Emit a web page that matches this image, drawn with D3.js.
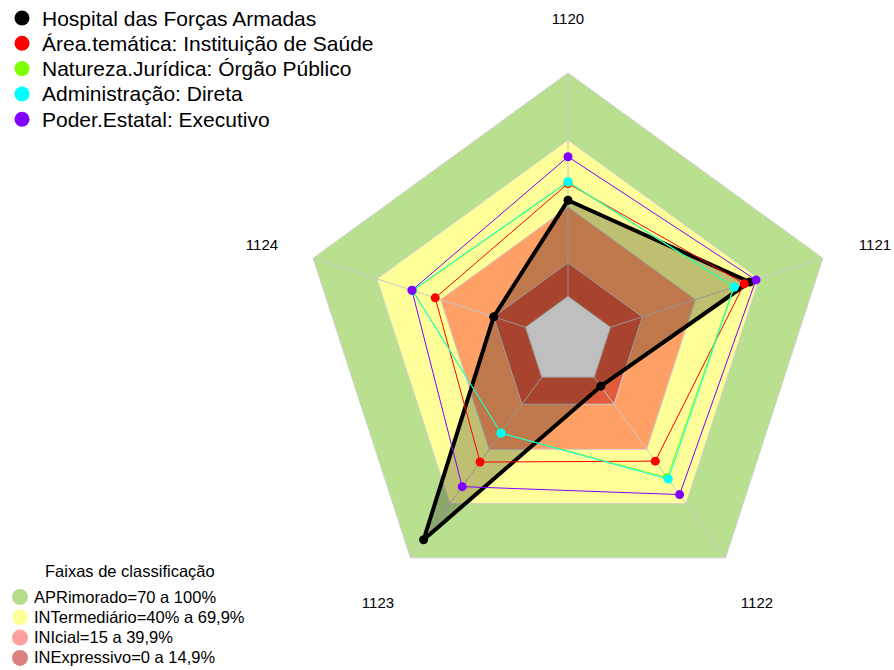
<!DOCTYPE html>
<html>
<head>
<meta charset="utf-8">
<script src="https://cdn.jsdelivr.net/npm/d3@7"></script>
<style>
  body { margin: 0; background: #fff; }
  svg { font-family: "Liberation Sans", Arial, sans-serif; }
</style>
</head>
<body>
<svg width="894" height="670"></svg>
<script>
// axes of the radar
var axes = ["1120", "1121", "1122", "1123", "1124"];

// series values (%)
var seriesNames = ["Hospital das Forças Armadas", "Área.temática: Instituição de Saúde",
    "Natureza.Jurídica: Órgão Público", "Administração: Direta", "Poder.Estatal: Executivo"];
var hospital = [43, 65.5, 5, 90, 15];
var areaTematica = [50.5, 63, 46.5, 47, 42.5];
var natureza = [51, 58, 55.6, 31, 53];
var administracao = [51.3, 58.3, 56.4, 31, 53.3];
var poder = [62.5, 68.5, 65, 60.6, 53.5];
var seriesColors = ["#000000", "#ff0000", "#80ff00", "#00ffff", "#8000ff"];

// classification bands
var bandLimits = [100, 70, 40, 15, 0];
var bandColors = ["#b9e08e", "#ffff99", "#ffa066", "#e05a3c", "#ffffff"];
var bandLabels = ["APRimorado=70 a 100%", "INTermediário=40% a 69,9%", "INIcial=15 a 39,9%", "INExpressivo=0 a 14,9%"];
var bandLegendColors = ["#b5de8a", "#ffff99", "#ffa0a0", "#db8080"];

function main() {
    var svg = d3.select("svg");
    var cx = 568, cy = 341;

    var r = d3.scaleLinear().domain([-20, 100]).range([0, 268]);
    var angle = d3.scaleLinear().domain([0, axes.length]).range([-Math.PI / 2, 1.5 * Math.PI]);

    function pt(i, v) {
        var a = angle(i);
        return [cx + r(v) * Math.cos(a), cy + r(v) * Math.sin(a)];
    }
    var line = d3.line();

    var g = svg.append("g");

    // bands
    bandLimits.forEach(function (b, k) {
        g.append("path")
            .attr("d", line(axes.map(function (d, i) { return pt(i, b); })) + "Z")
            .attr("fill", bandColors[k])
            .attr("stroke", "#d0d0d0")
            .attr("stroke-width", 1);
    });

    // spokes (from the 0% ring outwards)
    axes.forEach(function (d, i) {
        var p0 = pt(i, 0), p = pt(i, 100);
        g.append("line")
            .attr("x1", p0[0]).attr("y1", p0[1])
            .attr("x2", p[0]).attr("y2", p[1])
            .attr("stroke", "#c8c8c8")
            .attr("stroke-width", 1);
    });

    // axis labels
    var labelPos = [[568, 24], [875, 250], [757, 608], [378, 608], [262, 250]];
    axes.forEach(function (d, i) {
        svg.append("text")
            .attr("x", labelPos[i][0]).attr("y", labelPos[i][1])
            .attr("text-anchor", "middle")
            .attr("font-size", "15px")
            .text(d);
    });

    // series
    var allSeries = [hospital, areaTematica, natureza, administracao, poder];
    allSeries.forEach(function (s, k) {
        var pts = s.map(function (v, i) { return pt(i, v); });
        g.append("path")
            .attr("d", line(pts) + "Z")
            .attr("fill", k === 0 ? "rgba(0,0,0,0.25)" : "none")
            .attr("stroke", seriesColors[k])
            .attr("stroke-width", k === 0 ? 4 : 1)
            .attr("stroke-linejoin", "round");
        g.selectAll(".pt" + k)
            .data(pts)
            .enter().append("circle")
            .attr("cx", function (d) { return d[0]; })
            .attr("cy", function (d) { return d[1]; })
            .attr("r", 4.5)
            .attr("fill", seriesColors[k]);
    });

    // series legend
    var leg = svg.append("g");
    seriesNames.forEach(function (n, k) {
        var y = 18 + k * 25.3;
        leg.append("circle").attr("cx", 22).attr("cy", y).attr("r", 7.5).attr("fill", seriesColors[k]);
        leg.append("text").attr("x", 42).attr("y", y + 7.5).attr("font-size", "21px").text(n);
    });

    // band legend
    svg.append("text").attr("x", 45).attr("y", 577).attr("font-size", "16.5px").text("Faixas de classificação");
    bandLabels.forEach(function (n, k) {
        var y = 597 + k * 20.3;
        svg.append("circle").attr("cx", 20).attr("cy", y).attr("r", 8)
            .attr("fill", bandLegendColors[k]);
        svg.append("text").attr("x", 34).attr("y", y + 5.5).attr("font-size", "16.5px").text(n);
    });
}
main();
</script>
</body>
</html>
